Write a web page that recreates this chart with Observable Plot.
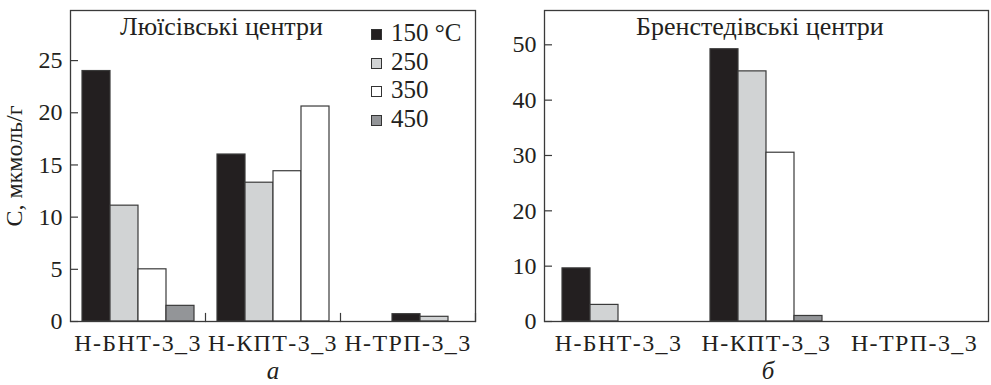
<!DOCTYPE html>
<html><head><meta charset="utf-8">
<script src="https://cdn.jsdelivr.net/npm/d3@7"></script>
<script src="https://cdn.jsdelivr.net/npm/@observablehq/plot@0.6"></script>
<style>
body{margin:0;background:#fff;}
#wrap{position:relative;width:991px;height:385px;font-family:'Liberation Serif';color:#231f20;overflow:hidden;}
#left,#right{position:absolute;top:0;}
#left{left:0}
#right{left:480px}
.title{position:absolute;font-family:'Liberation Serif';font-size:26px;line-height:24px;white-space:nowrap;}
.letter{position:absolute;font-family:'Liberation Serif';font-size:25px;line-height:28px;font-style:italic;transform:translateX(-50%);}
.lg{position:absolute;left:371px;font-family:'Liberation Serif';font-size:25px;line-height:24px;white-space:nowrap;}
.lg span.sw{position:absolute;left:0;width:9px;height:9px;border:1.3px solid #333;}
.lg span.tx{position:absolute;left:20px;}
svg text{font-family:'Liberation Serif';}
svg [aria-label="fx-axis tick label"] text{letter-spacing:1.4px;}
</style>
</head><body>
<div id="wrap">
  <div id="left"></div>
  <div id="right"></div>
</div>
<script>
// ---- data ----
const groups = ["Н-БНТ-3_3", "Н-КПТ-3_3", "Н-ТРП-3_3"];
const temps = ["150", "250", "350", "450"];
const legendLabels = ["150 °C", "250", "350", "450"];
const tempColors = ["#231f20", "#d1d3d4", "#ffffff", "#939598"];

// Люїсівські центри (a)
const lewis150 = [24.0, 16.0, 0.7];
const lewis250 = [11.1, 13.3, 0.45];
const lewis350 = [5.0, 14.4, 0];
const lewis450 = [1.5, 20.6, 0];
// Бренстедівські центри (б)
const bronsted150 = [9.6, 49.2, 0];
const bronsted250 = [3.0, 45.2, 0];
const bronsted350 = [0, 30.5, 0];
const bronsted450 = [0, 1.0, 0];

const yTicksLewis = [0, 5, 10, 15, 20, 25];
const yTicksBronsted = [0, 10, 20, 30, 40, 50];

const titleLewis = "Люїсівські центри";
const titleBronsted = "Бренстедівські центри";
const yLabel = "С, мкмоль/г";
const panelLetters = ["а", "б"];

function rows(series) {
  const out = [];
  series.forEach((vals, ti) => vals.forEach((v, gi) => {
    if (v > 0) out.push({group: groups[gi], temp: temps[ti], value: v});
  }));
  return out;
}
const lewisData = rows([lewis150, lewis250, lewis350, lewis450]);
const bronstedData = rows([bronsted150, bronsted250, bronsted350, bronsted450]);

const ink = "#231f20";
const lineCol = "#3a3a3a";
const serif = "Liberation Serif";
const colorOf = t => tempColors[temps.indexOf(t)];

function panel({data, width, marginLeft, marginRight, yMax, yTicks, label, outer, fillFn, shiftLast, boundaryTicks}) {
  const barOpts = {fx: "group", x: "temp", y: "value", fill: fillFn, stroke: lineCol, strokeWidth: 1.2};
  const marks = [];
  if (shiftLast) {
    marks.push(Plot.barY(data.filter(d => d.group !== groups[2]), barOpts));
    marks.push(Plot.barY(data.filter(d => d.group === groups[2]), {...barOpts, dx: 40}));
  } else {
    marks.push(Plot.barY(data, barOpts));
  }
  if (boundaryTicks) {
    // short tick at the right edge of each group band
    marks.push(Plot.frame({anchor: "right", insetTop: 385 - 10 - 64 - 8, stroke: lineCol, strokeWidth: 1.2}));
  }
  marks.push(
    Plot.axisY(yTicks, {anchor: "left", tickSize: 0, tickPadding: 8, fontSize: 24, fill: ink,
      label: label, labelAnchor: "center", labelOffset: 66, labelArrow: "none"}),
    Plot.axisY(yTicks, {anchor: "left", tickSize: 8, dx: 8, stroke: lineCol, strokeWidth: 1.2,
      tickFormat: () => "", label: null}),
    Plot.axisFx({anchor: "bottom", tickSize: 0, tickPadding: 12, fontSize: 24, fill: ink, label: null}),
    Plot.frame({facet: "super", stroke: lineCol, strokeWidth: 1.3})
  );
  const svg = Plot.plot({
    width, height: 385,
    marginLeft, marginRight, marginTop: 10, marginBottom: 64,
    style: {fontFamily: serif, background: "transparent", color: ink},
    fx: {domain: groups, padding: 0, axis: null, label: null},
    x: {domain: temps, paddingInner: 0, paddingOuter: outer, axis: null},
    y: {domain: [0, yMax], axis: null},
    marks
  });
  svg.querySelectorAll("text").forEach(t => t.setAttribute("font-family", serif));
  return svg;
}

document.getElementById("left").append(panel({
  data: lewisData, width: 480, marginLeft: 70, marginRight: 5, yMax: 29.8,
  yTicks: yTicksLewis, label: yLabel, outer: 0.41, shiftLast: true, boundaryTicks: true,
  // in the source figure the 4th bar of Н-КПТ-3_3 is drawn unfilled
  fillFn: d => (d.group === groups[1] && d.temp === "450") ? "#ffffff" : colorOf(d.temp)
}));
document.getElementById("right").append(panel({
  data: bronstedData, width: 511, marginLeft: 64, marginRight: 3, yMax: 56.2,
  yTicks: yTicksBronsted, label: null, outer: 0.64, shiftLast: false, boundaryTicks: false,
  fillFn: d => colorOf(d.temp)
}));

const wrap = document.getElementById("wrap");
function addDiv(cls, text, style) {
  const el = document.createElement("div");
  el.className = cls; el.textContent = text;
  Object.assign(el.style, style);
  el.style.fontFamily = serif;
  wrap.append(el);
  return el;
}
addDiv("title", titleLewis, {left: "120px", top: "15px"});
addDiv("title", titleBronsted, {left: "636px", top: "15px"});
addDiv("letter", panelLetters[0], {left: "273px", top: "357px"});
addDiv("letter", panelLetters[1], {left: "768px", top: "357px"});

legendLabels.forEach((lab, i) => {
  const row = document.createElement("div");
  row.className = "lg";
  row.style.fontFamily = serif;
  row.style.top = (21 + i * 28.6) + "px";
  const sw = document.createElement("span");
  sw.className = "sw"; sw.style.background = tempColors[i]; sw.style.top = "8px";
  const tx = document.createElement("span");
  tx.className = "tx"; tx.textContent = lab;
  row.append(sw, tx);
  wrap.append(row);
});
</script>
</body></html>
